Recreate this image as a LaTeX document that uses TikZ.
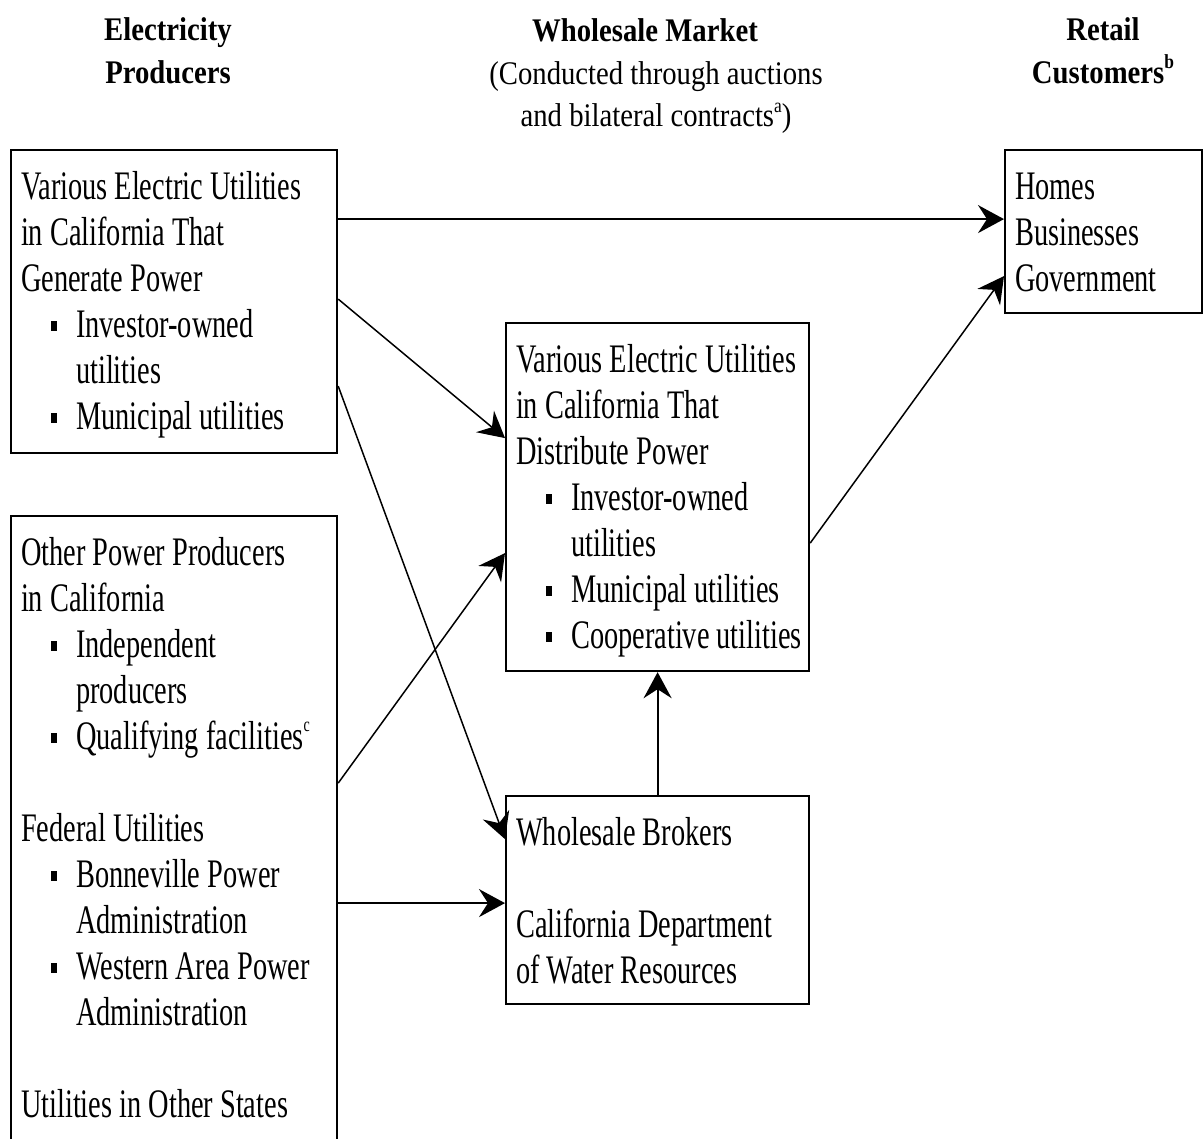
\documentclass[tikz,border=0pt]{standalone}
\usepackage{fontspec}
\setmainfont{Liberation Serif}
\newfontfamily\boxfont[FakeStretch=0.70]{Liberation Serif}
\newfontfamily\headfont[FakeStretch=0.87]{Liberation Serif}
\usetikzlibrary{arrows.meta,positioning}

\newcommand{\bitem}{\makebox[55pt][l]{\hspace*{30pt}\rule[6pt]{6pt}{10pt}}}
\newcommand{\bgap}{\hspace*{55pt}}
\newcommand{\sups}[1]{\raisebox{0.45em}{\fontsize{20}{20}\selectfont #1}}
\newcommand{\boxtext}[3]{\makebox[#1][l]{\begin{minipage}[t][#2][t]{420pt}\raggedright\strut #3\end{minipage}}}

\tikzset{
  box/.style={draw, line width=2.2pt, anchor=north west, inner xsep=10pt, inner ysep=17pt,
    font=\boxfont\fontsize{40.5}{46}\selectfont},
  head/.style={anchor=base, text width=420pt, align=flush center, inner sep=0pt,
    font=\headfont\fontsize{33}{42.5}\selectfont},
  arr/.style={-{Stealth[length=26pt,width=28pt,inset=9pt]}, line width=2.2pt},
  darr/.style={arr, line width=1.5pt}
}

\begin{document}
\begin{tikzpicture}[x=1pt,y=-1pt]
  \useasboundingbox (0,0) rectangle (1203,1139);
  % column heads
  \node[head] (prod) at (168,41) {\bfseries Electricity\\Producers};
  \node[head] (whole) at (656,42) {\textbf{Wholesale Market}\hspace*{22pt}\mbox{}\\(Conducted through auctions\\and bilateral contracts\sups{a})};
  \node[head, text width=300pt] (retail) at (1103,41) {\bfseries Retail\\Customers\sups{b}};
  % boxes
  \node[box] (gen) at (10,149) {\boxtext{306pt}{269pt}{Various Electric Utilities\\in California That\\Generate Power\\
    \bitem Investor-owned\\\bgap utilities\\\bitem Municipal utilities}};
  \node[box] (oth) at (10,515) {\boxtext{306pt}{611pt}{Other Power Producers\\in California\\
    \bitem Independent\\\bgap producers\\\bitem Qualifying facilities\sups{c}\\[46pt]
    Federal Utilities\\\bitem Bonneville Power\\\bgap Administration\\\bitem Western Area Power\\\bgap Administration\\[46pt]
    Utilities in Other States}};
  \node[box] (dist) at (505,322) {\boxtext{283pt}{314pt}{Various Electric Utilities\\in California That\\Distribute Power\\
    \bitem Investor-owned\\\bgap utilities\\\bitem Municipal utilities\\\bitem Cooperative utilities}};
  \node[box] (brok) at (505,795) {\boxtext{283pt}{174pt}{Wholesale Brokers\\[46pt]California Department\\of Water Resources}};
  \node[box] (homes) at (1004,149) {\boxtext{177pt}{129pt}{Homes\\Businesses\\Government}};
  % flows
  \coordinate (g1) at ([yshift=82.5pt]gen.east);
  \draw[arr] (g1) -- (g1 -| homes.west);
  \draw[darr] ([yshift=2.5pt]gen.east) -- ([yshift=59pt]dist.west);
  \draw[darr] ([yshift=-84.5pt]gen.east) -- ([yshift=61pt]brok.west);
  \draw[darr] ([yshift=55.5pt]oth.east) -- ([yshift=-56pt]dist.west);
  \coordinate (o1) at ([yshift=-64.5pt]oth.east);
  \draw[arr] (o1) -- (o1 -| brok.west);
  \draw[arr] (brok.north) -- (dist.south);
  \draw[darr] ([yshift=-46pt]dist.east) -- ([yshift=-44.5pt]homes.west);
\end{tikzpicture}
\end{document}
